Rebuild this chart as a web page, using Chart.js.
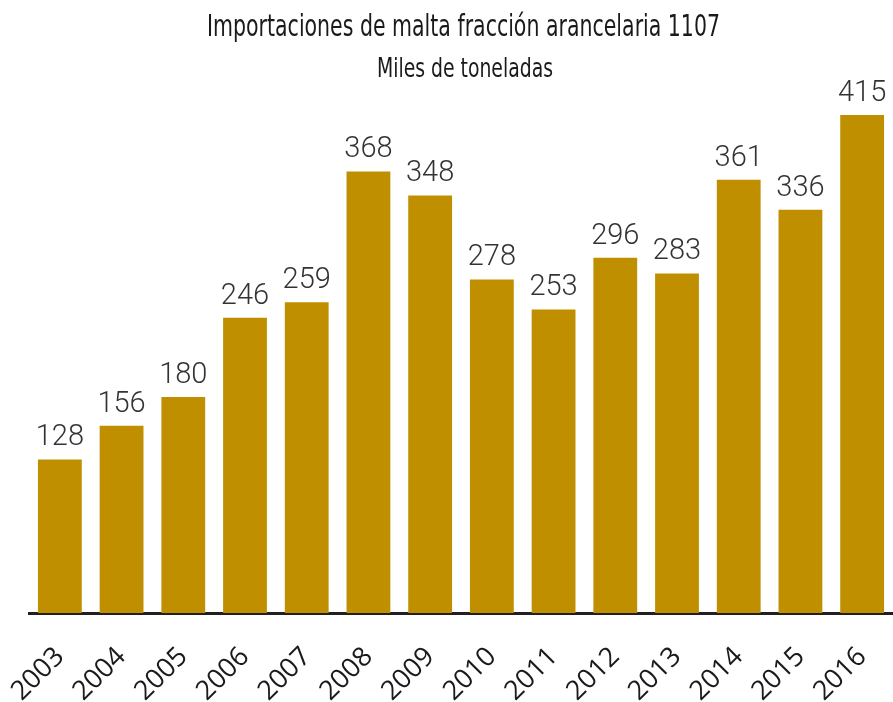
<!DOCTYPE html>
<html>
<head>
<meta charset="utf-8">
<script src="https://cdn.jsdelivr.net/npm/chart.js@4.4.1/dist/chart.umd.min.js"></script>
<style>
  html, body { margin: 0; padding: 0; background: #fff; }
  #wrap { width: 893px; height: 702px; position: relative; }
</style>
</head>
<body>
<div id="wrap"><canvas id="myChart"></canvas></div>
<script>
// DATA
const years = ["2003", "2004", "2005", "2006", "2007", "2008", "2009",
  "2010", "2011", "2012", "2013", "2014", "2015", "2016"];
const imports = [128, 156, 180, 246, 259, 368, 348, 278, 253, 296, 283, 361, 336, 415];
const titleText = "Importaciones de malta fracción arancelaria 1107";
const subtitleText = "Miles de toneladas";

const narrow = "'DejaVu Sans Condensed', 'Liberation Sans Narrow', sans-serif";

// condensed two-line heading (squeezed horizontally like the original face)
const heading = {
  id: "heading",
  afterDraw(chart) {
    const c = chart.ctx;
    const lines = [
      { text: titleText, size: 30, x: 463.5, y: 36, w: 513 },
      { text: subtitleText, size: 27, x: 465, y: 77, w: 176 }
    ];
    c.save();
    c.fillStyle = "#1a1a1a";
    c.textAlign = "center";
    c.textBaseline = "alphabetic";
    lines.forEach(l => {
      c.font = l.size + "px " + narrow;
      const sx = l.w / c.measureText(l.text).width;
      c.save();
      c.translate(l.x, l.y);
      c.scale(sx, 1);
      c.fillText(l.text, 0, 0);
      c.restore();
    });
    c.restore();
  }
};

// value labels above each bar
const barLabels = {
  id: "barLabels",
  afterDatasetsDraw(chart) {
    const c = chart.ctx;
    const meta = chart.getDatasetMeta(0);
    c.save();
    c.font = "300 29px Roboto, sans-serif";
    c.fillStyle = "#333333";
    c.textAlign = "center";
    c.textBaseline = "alphabetic";
    meta.data.forEach((bar, i) => {
      c.fillText(String(imports[i]), bar.x, bar.y - 14);
    });
    c.restore();
  }
};

const ctx = document.getElementById("myChart");
const myChart = new Chart(ctx, {
  type: "bar",
  data: {
    labels: years,
    datasets: [{
      data: imports,
      backgroundColor: "#BF8F00",
      borderWidth: 0,
      barPercentage: 0.71,
      categoryPercentage: 1
    }]
  },
  options: {
    responsive: true,
    maintainAspectRatio: false,
    animation: false,
    layout: { padding: { left: 29, right: 0, top: 97, bottom: 0 } },
    plugins: {
      legend: { display: false },
      tooltip: { enabled: false },
      title: { display: false }
    },
    scales: {
      x: {
        grid: { display: false },
        border: { display: true, color: "#231F20", width: 3 },
        ticks: {
          color: "#1a1a1a",
          font: { family: "'Open Sans', sans-serif", size: 27 },
          minRotation: 45,
          maxRotation: 45,
          padding: 20
        },
        afterFit(scale) {
          scale.height = 89;
          scale.paddingLeft = 0;
          scale.paddingRight = 0;
        }
      },
      y: {
        display: false,
        min: 0,
        max: 430
      }
    }
  },
  plugins: [barLabels, heading]
});
</script>
</body>
</html>
